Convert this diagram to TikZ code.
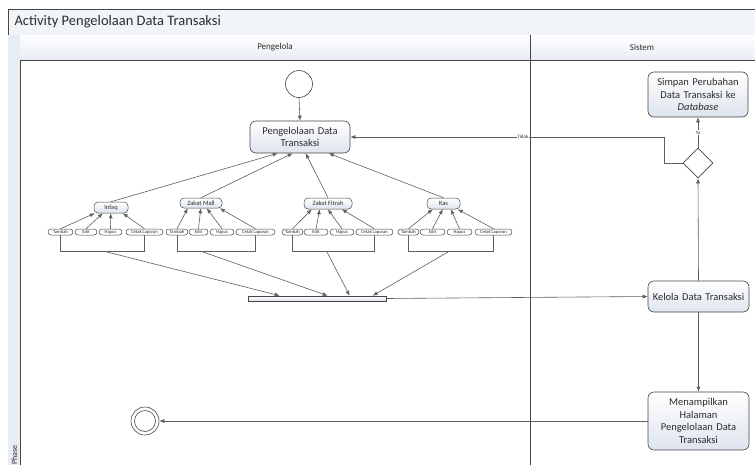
\documentclass[tikz,border=0pt]{standalone}
\usepackage{fontspec}
\setmainfont{Carlito}
\usetikzlibrary{arrows.meta,calc,shapes.geometric}
\definecolor{nodebot}{RGB}{222,228,238}
\definecolor{hdr}{RGB}{232,236,243}
\definecolor{edge}{RGB}{70,70,70}
\definecolor{wire}{RGB}{95,95,95}
\definecolor{txt}{RGB}{45,45,45}
\begin{document}
\begin{tikzpicture}[x=1pt,y=-1pt, every node/.style={text=txt},
  act/.style={draw=edge, line width=0.6pt, rounded corners=6pt, top color=white, bottom color=nodebot, align=center, inner sep=1pt, font=\fontsize{10.5}{12.5}\selectfont},
  sub/.style={draw=edge, line width=0.5pt, rounded corners=4pt, top color=white, bottom color=nodebot, inner sep=0pt, font=\fontsize{6.5}{7}\selectfont},
  opt/.style={draw=edge, line width=0.5pt, rounded corners=3pt, fill=white, inner sep=0pt, minimum height=6pt, font=\fontsize{4.6}{5}\selectfont},
  arr/.style={draw=wire, line width=0.6pt, -{Latex[length=5pt,width=4pt]}},
  ln/.style={draw=wire, line width=0.6pt},
  lbl/.style={fill=white, inner sep=0.5pt, font=\fontsize{5}{6}\selectfont}]
\useasboundingbox (0,0) rectangle (755,464);
% frame
\fill[white] (0,0) rectangle (755,464);
\fill[hdr!60] (8,9) rectangle (756,35);
\draw[edge, line width=0.6pt] (8,465) -- (8,9) -- (756,9);
\draw[edge, line width=0.6pt] (8,35) -- (756,35);
\node[anchor=west, font=\fontsize{14.5}{16}\selectfont] (title) at (11,22) {Activity Pengelolaan Data Transaksi};
% phase column
\fill[hdr] (8,35) rectangle (20,465);
\draw[edge, line width=0.6pt] (20,35) -- (20,465);
\node[rotate=90, anchor=west, font=\fontsize{8}{9}\selectfont, inner sep=0pt] (phase) at (14.5,465) {Phase};
% lane headers
\shade[top color=white, bottom color=hdr] (20,35) rectangle (756,60);
\draw[edge, line width=0.6pt] (20,60) -- (756,60);
\draw[edge, line width=0.6pt] (530,35) -- (530,465);
\node[font=\fontsize{9}{11}\selectfont] (lane1) at (275,47.5) {Pengelola};
\node[font=\fontsize{9}{11}\selectfont] (lane2) at (642,47.5) {Sistem};
% main nodes
\node[circle, draw=edge, line width=0.6pt, fill=white, minimum size=27pt, inner sep=0pt] (start) at (299,84) {};
\node[act, minimum width=100pt, minimum height=32pt, text width=92pt] (main) at (300,137) {Pengelolaan Data\\Transaksi};
\node[act, minimum width=100pt, minimum height=45pt, text width=96pt] (simpan) at (698,94.5) {Simpan Perubahan\\Data Transaksi ke\\\textit{Database}};
\node[diamond, draw=edge, line width=0.6pt, fill=white, minimum width=30pt, minimum height=30pt, inner sep=0pt] (dia) at (698,163) {};
\node[act, minimum width=101pt, minimum height=31pt, text width=97pt] (kelola) at (698.5,296.5) {Kelola Data Transaksi};
\node[act, minimum width=101pt, minimum height=58pt, text width=97pt] (tampil) at (698.5,421) {Menampilkan\\Halaman\\Pengelolaan Data\\Transaksi};
\node[circle, draw=edge, line width=0.6pt, fill=white, minimum size=28pt, inner sep=0pt] (final) at (145,421) {};
\node[circle, draw=edge, line width=0.6pt, minimum size=21pt, inner sep=0pt] (finalin) at (145,421) {};
\node[draw=edge, line width=0.6pt, top color=white, bottom color=nodebot, minimum width=138pt, minimum height=5pt, inner sep=0pt] (bar) at (317,298.5) {};
% sub nodes
\node[sub, minimum width=34pt, minimum height=11pt] (infaq) at (111,207.5) {Infaq};
\node[sub, minimum width=42pt, minimum height=10pt] (mall) at (201,203) {Zakat Mall};
\node[sub, minimum width=48pt, minimum height=11pt] (fitrah) at (328,203.5) {Zakat Fitrah};
\node[sub, minimum width=33pt, minimum height=11pt] (kas) at (443.5,203.5) {Kas};
% options
\foreach \g/\pA/\wA/\pB/\wB/\pC/\wC/\pD/\wD in {
  i/60.5/25/86/22/110.5/23/144.5/37,
  m/177/22/198.5/19/222/24/255.5/39,
  f/292.5/21/316/24/342/24/374.5/37,
  k/408.5/21/432.5/25/459.5/25/493.5/37}{
  \node[opt, minimum width=\wA pt] (\g t) at (\pA,232) {Tambah};
  \node[opt, minimum width=\wB pt] (\g e) at (\pB,232) {Edit};
  \node[opt, minimum width=\wC pt] (\g h) at (\pC,232) {Hapus};
  \node[opt, minimum width=\wD pt] (\g c) at (\pD,232) {Cetak Laporan};
  \draw[ln] (\g t.south) -- ++(0,16.5) -| (\g c.south);
}
% option -> parent arrows
\foreach \g/\p/\qa/\qb/\qc/\qd in {i/infaq/1/9/17/29, m/mall/8/21/27/40, f/fitrah/8/16/24/38, k/kas/6/16/24/31}{
  \draw[arr] (\g t.north) -- ($(\p.south west)+(\qa,0)$);
  \draw[arr] (\g e.north) -- ($(\p.south west)+(\qb,0)$);
  \draw[arr] (\g h.north) -- ($(\p.south west)+(\qc,0)$);
  \draw[arr] (\g c.north) -- ($(\p.south west)+(\qd,0)$);
}
% parent -> main
\draw[arr] (infaq.north) -- ($(main.south west)+(28,0)$);
\draw[arr] (mall.north) -- ($(main.south west)+(43,0)$);
\draw[arr] (fitrah.north) -- ($(main.south west)+(56,0)$);
\draw[arr] (kas.north) -- ($(main.south west)+(79,0)$);
% brackets -> bar
\coordinate (bi) at (107,252);
\coordinate (bm) at (203,252);
\coordinate (bf) at (327,252);
\coordinate (bk) at (448,252);
\draw[arr] (bi) -- ($(bar.north west)+(32,0)$);
\draw[arr] (bm) -- ($(bar.north west)+(80,0)$);
\draw[arr] (bf) -- ($(bar.north west)+(102,0)$);
\draw[arr] (bk) -- ($(bar.north west)+(125,0)$);
% flow
\draw[arr] (start.south) -- (main.north);
\draw[arr] (bar.east) -- (kelola.west);
\draw[arr] (kelola.north) -- (dia.south);
\draw[arr] (kelola.south) -- (tampil.north);
\draw[arr] (tampil.west) -- (final.east);
\draw[arr] (dia.north) -- (simpan.south) node[lbl, midway] {Ya};
\coordinate (tk) at (664,137);
\draw[ln] (dia.west) -| (tk);
\draw[arr] (tk) -- (main.east) node[lbl, pos=0.45] {Tidak};
\end{tikzpicture}
\end{document}
